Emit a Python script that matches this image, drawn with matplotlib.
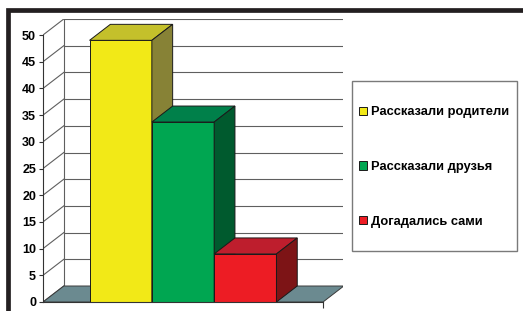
import matplotlib.pyplot as plt
from matplotlib.patches import Polygon, Rectangle, Patch

# data
labels = ["Рассказали родители", "Рассказали друзья", "Догадались сами"]
values = [49, 33.7, 9]
front_colors = ["#f2e917", "#00a651", "#ed1c24"]
top_colors = ["#c4c02b", "#00804a", "#be1e2d"]
side_colors = ["#878236", "#005a2e", "#7d1416"]
yticks = list(range(0, 51, 5))

W, H = 523, 311
fig = plt.figure(figsize=(W / 100, H / 100), dpi=100)
plt.rcParams["font.family"] = ["Liberation Sans", "DejaVu Sans"]


def px(x, y):
    return x / W, 1 - y / H


# axes: front plane 0..1 spans x 43..323 px, y 0..50 spans 302..35 px
ppu = (302 - 35) / 50
x0, y0 = px(43, 302)
ax = fig.add_axes([x0, y0, 300 / W, 283 / H])
ax.set_xlim(0, 300 / 280)
ax.set_ylim(0, 283 / ppu)
ax.patch.set_alpha(0)

dx = 20.8 / 280
dy = 16 / ppu
grid_c = "#5f5f5f"

# floor
ax.add_patch(Polygon([(0, 0), (1, 0), (1 + dx, dy), (dx, dy)], closed=True,
                     facecolor="#6b8a90", edgecolor="#3a3a3a", lw=0.7, zorder=1))

# walls
for v in yticks:
    ax.plot([0, dx], [v, v + dy], color=grid_c, lw=0.8, zorder=0.5)
    if v > 0:
        ax.plot([dx, 1 + dx], [v + dy, v + dy], color=grid_c, lw=0.8, zorder=0.5)
ax.plot([dx, dx], [dy, 50 + dy], color=grid_c, lw=0.8, zorder=0.5)
ax.plot([1 + dx, 1 + dx], [dy, 50 + dy], color=grid_c, lw=0.8, zorder=0.5)

# bars (one category, three series)
bw = 62.3 / 280
start = 0.5 - 1.5 * bw
for i, (v, fc, tc, sc) in enumerate(zip(values, front_colors, top_colors, side_colors)):
    l = start + i * bw
    r = l + bw
    z = 2 + i
    ax.add_patch(Polygon([(l, 0), (r, 0), (r, v), (l, v)], closed=True,
                         facecolor=fc, edgecolor="#1a1a1a", lw=0.7, zorder=z))
    ax.add_patch(Polygon([(l, v), (r, v), (r + dx, v + dy), (l + dx, v + dy)], closed=True,
                         facecolor=tc, edgecolor="#1a1a1a", lw=0.7, zorder=z))
    ax.add_patch(Polygon([(r, 0), (r + dx, dy), (r + dx, v + dy), (r, v)], closed=True,
                         facecolor=sc, edgecolor="#1a1a1a", lw=0.7, zorder=z))

for s in ["top", "right"]:
    ax.spines[s].set_visible(False)
ax.spines["left"].set_bounds(0, 50)
ax.spines["bottom"].set_bounds(0, 1)
ax.spines["left"].set_color("#333333")
ax.spines["bottom"].set_color("#333333")
ax.spines["left"].set_linewidth(0.8)
ax.spines["bottom"].set_linewidth(0.8)
ax.spines["bottom"].set_zorder(6)
ax.set_yticks(yticks)
ax.set_yticklabels([str(t) for t in yticks], fontsize=9, fontweight="bold")
ax.tick_params(axis="y", length=3, width=0.8, pad=2, color="#333333")
ax.set_xticks([1])
ax.set_xticklabels([""])
ax.tick_params(axis="x", length=4, width=0.8, color="#333333")

# legend
lx0, ly0 = px(352, 251)
lx1, ly1 = px(517, 81)
fig.patches.append(Rectangle((lx0, ly0), lx1 - lx0, ly1 - ly0, transform=fig.transFigure,
                             facecolor="white", edgecolor="#7a7a7a", lw=1.0, zorder=1))
handles = [Patch(facecolor=c, edgecolor="#1a1a1a", lw=0.7) for c in front_colors]
lax, lay = px(359, 167)
fig.legend(handles, labels, loc="center left", bbox_to_anchor=(lax, lay),
           frameon=False, borderpad=0, borderaxespad=0, labelspacing=3.3,
           handlelength=0.62, handleheight=0.62, handletextpad=0.33,
           prop={"size": 9.3, "weight": "bold"})

# outer frame
bx, by = px(7.5, 10.3)
fig.patches.append(Rectangle((bx, -0.1), 1.2, by + 0.1, transform=fig.transFigure,
                             facecolor="none", edgecolor="#231f20", lw=3.4, zorder=10))

fig.savefig("out.png", dpi=100)
